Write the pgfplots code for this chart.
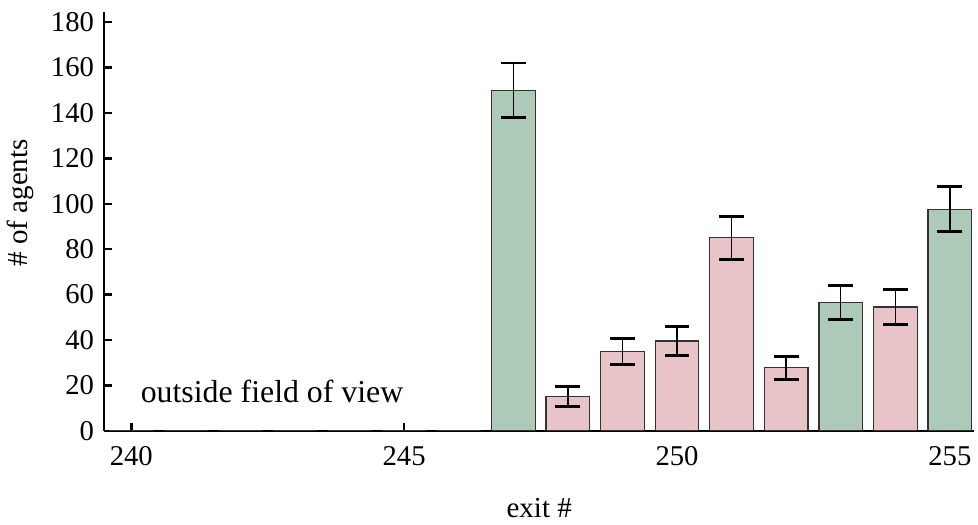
\documentclass[border=0pt]{standalone}
\usepackage{fontspec}
\setmainfont{Liberation Serif}
\usepackage{pgfplots}
\usepackage{pgfplotstable}
\pgfplotsset{compat=1.18}

\definecolor{barGreen}{RGB}{173,202,185}
\definecolor{barPink}{RGB}{232,196,200}

% exits inside the field of view, split by group
\pgfplotstableread{
x y err
247 150 12
253 56.5 7.5
255 97.6 10
}\greenexits

\pgfplotstableread{
x y err
248 15 4.3
249 34.8 5.7
250 39.5 6.5
251 85 9.5
252 27.7 5.2
254 54.5 7.7
}\pinkexits

% exits outside the field of view (no agents)
\pgfplotstableread{
x y
240 0
241 0
242 0
243 0
244 0
245 0
246 0
}\hiddenexits

\begin{document}
\begin{tikzpicture}
\begin{axis}[
  scale only axis,
  width=437.5pt, height=210.5pt,
  xmin=239.5, xmax=255.45,
  ymin=0, ymax=184.5,
  axis lines*=left,
  axis line style={line width=1.25pt, black},
  xtick={240,245,250,255},
  ytick={0,20,...,180},
  minor tick num=0,
  tick align=inside,
  major tick length=4pt,
  tick style={line width=1.25pt, black},
  /pgf/number format/assume math mode=true,
  ticklabel style={font=\fontsize{14.4}{16}\selectfont},
  xticklabel style={yshift=-4.5pt},
  yticklabel style={xshift=-1.5pt},
  xlabel={exit \#},
  ylabel={\# of agents},
  label style={font=\fontsize{14.6}{16}\selectfont},
  xlabel style={yshift=-9.5pt},
  ylabel style={at={(ticklabel cs:0.544)}, yshift=2pt},
  error bars/error bar style={line width=0.75pt, black},
  error bars/error mark options={rotate=90, mark size=6.25pt, line width=1.5pt, black},
]
\addplot[ybar, bar width=0.8, draw=black!80, line width=0.6pt, fill=white]
  table[x=x, y=y] {\hiddenexits};
\addplot[ybar, bar width=0.8, draw=black!80, line width=0.6pt, fill=barGreen,
  error bars/.cd, y dir=both, y explicit]
  table[x=x, y=y, y error=err] {\greenexits};
\addplot[ybar, bar width=0.8, draw=black!80, line width=0.6pt, fill=barPink,
  error bars/.cd, y dir=both, y explicit]
  table[x=x, y=y, y error=err] {\pinkexits};
\node[font=\fontsize{16}{18}\selectfont] at (axis cs:242.58,17.5) {outside field of view};
\end{axis}
\path (-51pt,-43.5pt) rectangle (438pt,216.5pt);
\end{tikzpicture}
\end{document}
